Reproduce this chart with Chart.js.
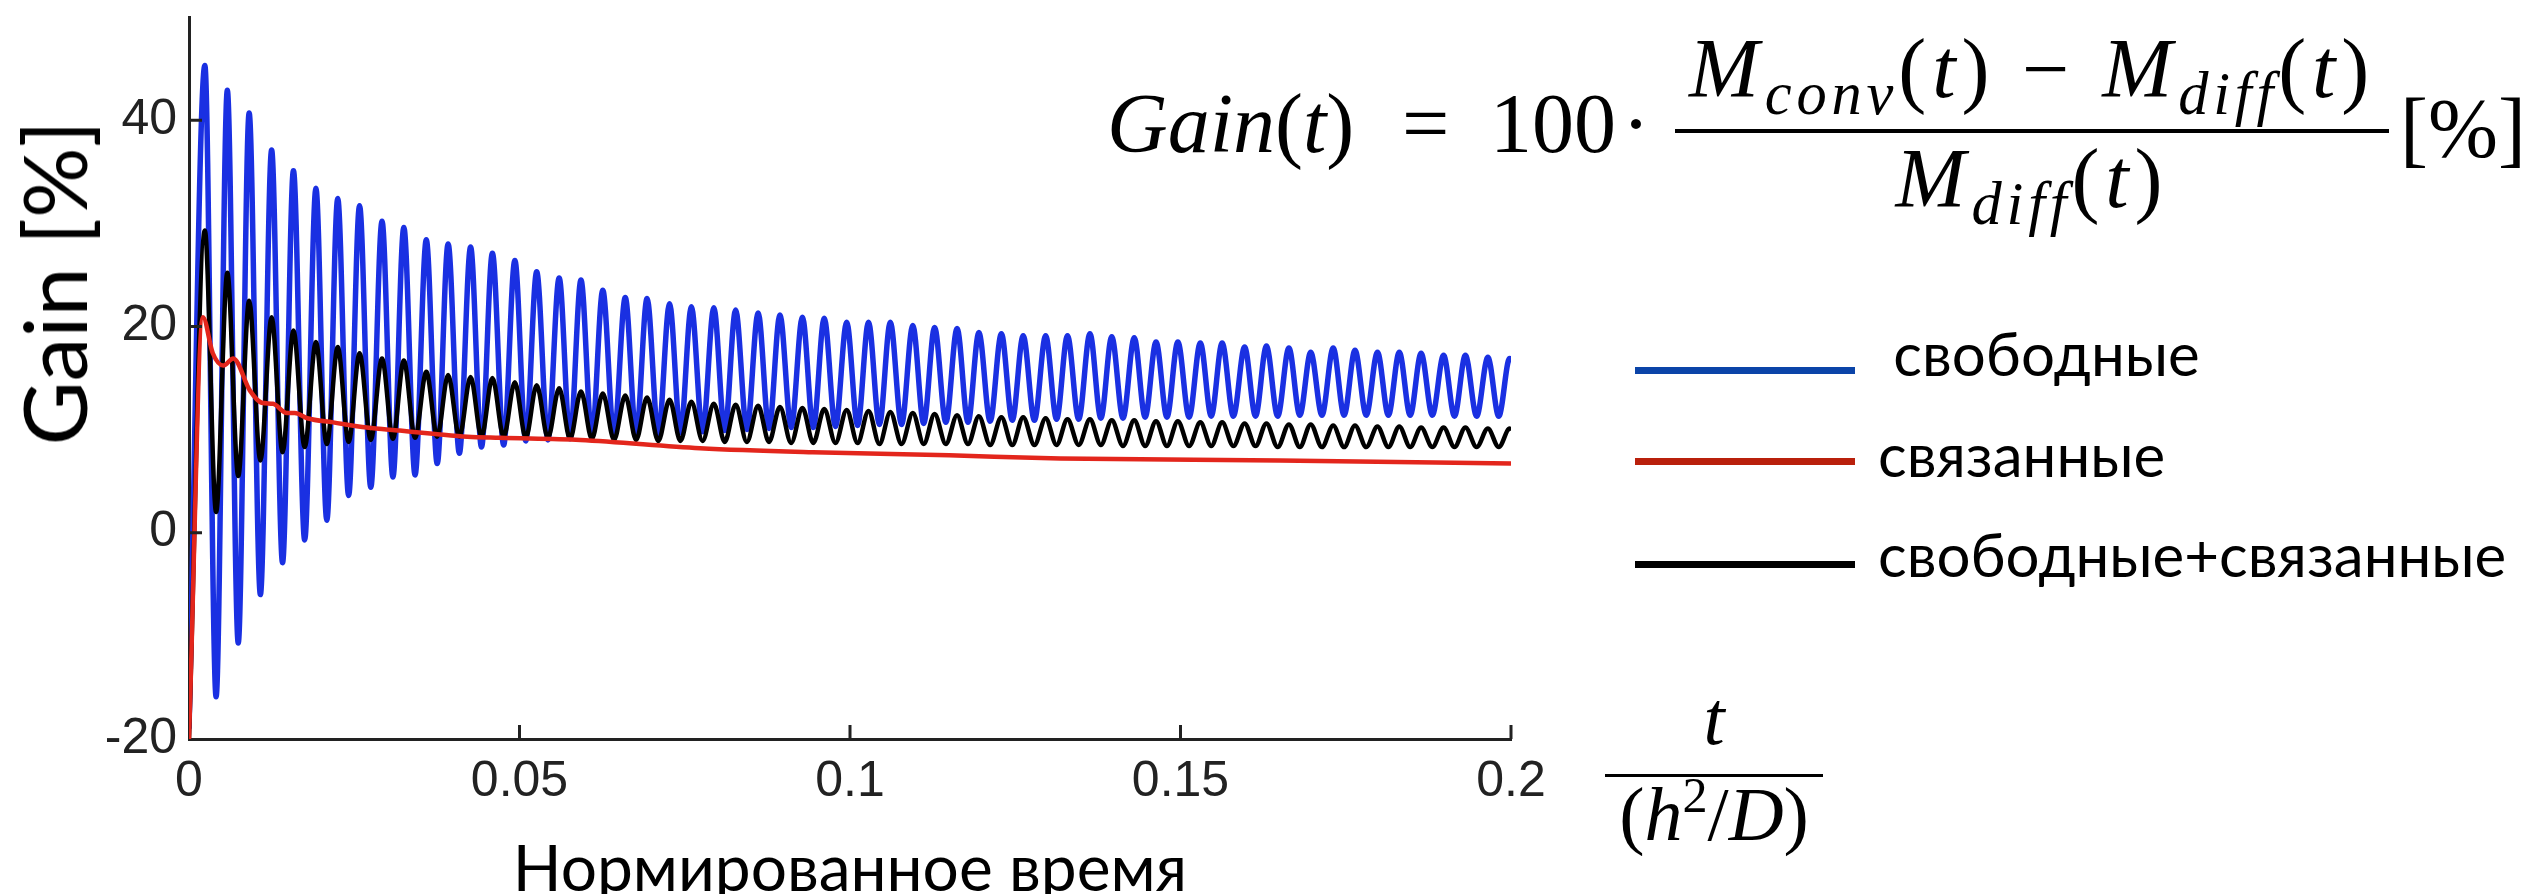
<!DOCTYPE html>
<html>
<head>
<meta charset="utf-8">
<script src="https://cdn.jsdelivr.net/npm/chart.js@4.4.1/dist/chart.umd.min.js"></script>
<style>
  body { margin: 0; background: #fff; overflow: hidden; }
  #wrap { position: relative; width: 2534px; height: 894px; }
  .abs { position: absolute; white-space: pre; line-height: 1; }
  .sans { font-family: Lato, "Open Sans", sans-serif; color: #000; }
  .math { font-family: "Liberation Serif", "DejaVu Serif", serif; color: #000; font-size: 84px; }
  .math i { font-style: italic; }
  .math sub { font-size: 0.72em; vertical-align: -0.28em; line-height: 0; }
  .math sub i { letter-spacing: 0.08em; }
  .math sup { font-size: 0.66em; vertical-align: 0.55em; line-height: 0; }
  .wide { letter-spacing: 0.07em; }
  .bar { position: absolute; background: #000; }
  .frac-part { position: absolute; text-align: center; white-space: nowrap; line-height: 1; }
  .key { position: absolute; height: 7px; }
</style>
</head>
<body>
<div id="wrap">
  <canvas id="gainChart" width="2534" height="894"></canvas>

  <div class="abs sans" id="yTitle" style="font-size:88px; left:53px; top:283px; transform: translate(-50%, -50%) rotate(-90deg);">Gain [%]</div>

  <div class="abs math" style="left:1107px; top:82px;"><i>Gain</i>(<i>t</i>)</div>
  <div class="abs math" style="left:1402px; top:82px;">=</div>
  <div class="abs math" style="left:1490px; top:82px;">100</div>
  <div class="abs math" style="left:1622px; top:82px;">·</div>
  <div class="frac-part math wide" style="left:1675px; width:714px; top:27px;"><i>M</i><sub><i>conv</i></sub>(<i>t</i>) − <i>M</i><sub><i>diff</i></sub>(<i>t</i>)</div>
  <div class="bar" style="left:1675px; width:714px; top:129px; height:4px;"></div>
  <div class="frac-part math wide" style="left:1675px; width:714px; top:137px;"><i>M</i><sub><i>diff</i></sub>(<i>t</i>)</div>
  <div class="abs math" style="left:2400px; top:87px;">[%]</div>

  <div class="frac-part math" style="left:1605px; width:218px; top:680px; font-size:76px;"><i>t</i></div>
  <div class="bar" style="left:1605px; width:218px; top:774px; height:3px;"></div>
  <div class="frac-part math" style="left:1605px; width:218px; top:776px; font-size:76px;">(<i>h</i><sup>2</sup>/<i>D</i>)</div>

  <div id="legend"></div>
</div>

<script>
// оси
const xTicks = [0, 0.05, 0.1, 0.15, 0.2];
const xTickLabels = ["0", "0.05", "0.1", "0.15", "0.2"];
const yTicks = [-20, 0, 20, 40];
const yTickLabels = ["-20", "0", "20", "40"];

const seriesNames = [" свободные", "связанные", "свободные+связанные"];
const lineColors = ["#1a30e2", "#e3261c", "#000000"];
const legendColors = ["#0b44a8", "#b9200c", "#000000"];

// моменты максимумов колебаний (нормированное время)
const peakTimes = [
  0.0024, 0.0058, 0.0091, 0.0125, 0.0158, 0.0192, 0.0225, 0.0258, 0.0292, 0.0325,
  0.0359, 0.0392, 0.0426, 0.0459, 0.0493, 0.0526, 0.0560, 0.0593, 0.0626, 0.0660,
  0.0693, 0.0727, 0.0760, 0.0794, 0.0827, 0.0861, 0.0894, 0.0928, 0.0961, 0.0995,
  0.1028, 0.1061, 0.1095, 0.1128, 0.1162, 0.1195, 0.1229, 0.1262, 0.1296, 0.1329,
  0.1363, 0.1396, 0.1430, 0.1463, 0.1496, 0.1530, 0.1563, 0.1597, 0.1630, 0.1664,
  0.1697, 0.1731, 0.1764, 0.1798, 0.1831, 0.1864, 0.1898, 0.1931, 0.1965, 0.1998
];

// свободные
const freeStart = -19;
const freeEnd = 16.5;
const freePeaks = [
  45.3, 42.9, 40.7, 37.1, 35.1, 33.4, 32.4, 31.7, 30.2, 29.6,
  28.4, 28.0, 27.7, 27.1, 26.4, 25.3, 24.7, 24.5, 23.5, 22.8,
  22.7, 22.2, 21.9, 21.8, 21.6, 21.3, 21.1, 20.9, 20.8, 20.4,
  20.4, 20.4, 20.1, 19.9, 19.8, 19.4, 19.3, 19.1, 19.1, 19.1,
  19.3, 19.0, 18.9, 18.5, 18.5, 18.4, 18.4, 18.0, 18.1, 17.9,
  17.5, 17.9, 17.7, 17.5, 17.5, 17.4, 17.2, 17.2, 17.0, 16.9
];
const freeTroughs = [
  -15.9, -10.7, -6.0, -2.9, -0.7, 1.2, 3.6, 4.4, 5.4, 5.6,
  6.7, 7.7, 8.3, 8.5, 8.9, 9.0, 9.1, 9.3, 9.4, 9.5,
  9.6, 9.7, 9.8, 9.9, 10.0, 10.1, 10.2, 10.2, 10.3, 10.4,
  10.5, 10.5, 10.6, 10.7, 10.7, 10.8, 10.9, 10.9, 11.0, 11.0,
  11.1, 11.1, 11.2, 11.2, 11.2, 11.3, 11.3, 11.3, 11.3, 11.4,
  11.4, 11.4, 11.4, 11.4, 11.4, 11.4, 11.3, 11.3, 11.3
];

// свободные+связанные
const bothStart = -20;
const bothEnd = 9.9;
const bothPeaks = [
  29.3, 25.2, 22.5, 20.9, 19.6, 18.5, 18.0, 17.4, 16.9, 16.7,
  15.6, 15.3, 15.1, 15.0, 14.6, 14.3, 14.0, 13.7, 13.5, 13.3,
  13.1, 12.9, 12.7, 12.5, 12.4, 12.3, 12.2, 12.1, 12.0, 11.9,
  11.8, 11.7, 11.6, 11.5, 11.4, 11.3, 11.2, 11.2, 11.1, 11.0,
  11.0, 10.9, 10.9, 10.8, 10.8, 10.7, 10.7, 10.6, 10.6, 10.5,
  10.5, 10.4, 10.4, 10.3, 10.3, 10.2, 10.2, 10.2, 10.1, 10.1
];
const bothTroughs = [
  2.0, 5.5, 7.0, 7.8, 8.3, 8.6, 8.8, 9.0, 9.1, 9.2,
  9.3, 9.3, 9.3, 9.3, 9.2, 9.2, 9.1, 9.1, 9.0, 9.0,
  8.9, 8.9, 8.9, 8.8, 8.8, 8.8, 8.7, 8.7, 8.7, 8.7,
  8.6, 8.6, 8.6, 8.6, 8.6, 8.5, 8.5, 8.5, 8.5, 8.5,
  8.5, 8.4, 8.4, 8.4, 8.4, 8.4, 8.4, 8.4, 8.3, 8.3,
  8.3, 8.3, 8.3, 8.3, 8.3, 8.3, 8.3, 8.3, 8.3
];

// связанные
const boundTimes = [
  0, 0.0021, 0.0036, 0.0052, 0.0067, 0.0092, 0.0110, 0.0127, 0.0148, 0.0160,
  0.0179, 0.0218, 0.0269, 0.0319, 0.0369, 0.0421, 0.0470, 0.0592, 0.0773, 0.0944,
  0.1150, 0.1318, 0.1650, 0.2
];
const boundGain = [
  -20, 20.9, 17.4, 16.2, 16.9, 13.8, 12.6, 12.5, 11.6, 11.6,
  11.1, 10.7, 10.2, 9.9, 9.6, 9.3, 9.2, 9.0, 8.2, 7.8,
  7.5, 7.2, 7.0, 6.7
];

function oscillation(start, peaks, troughs, end) {
  const pts = [{ x: 0, y: start }];
  peaks.forEach((p, i) => {
    pts.push({ x: peakTimes[i], y: p });
    if (i < troughs.length) {
      pts.push({ x: (peakTimes[i] + peakTimes[i + 1]) / 2, y: troughs[i] });
    }
  });
  pts.push({ x: 0.2, y: end });
  return pts;
}

const boundPoints = boundTimes.map((t, i) => ({ x: t, y: boundGain[i] }));

// тики внутрь, как в MATLAB
const innerTicks = {
  id: "innerTicks",
  afterDatasetsDraw(chart) {
    const { ctx, chartArea, scales } = chart;
    ctx.save();
    ctx.strokeStyle = "#222";
    ctx.lineWidth = 3;
    ctx.beginPath();
    xTicks.slice(1).forEach(v => {
      const px = scales.x.getPixelForValue(v);
      ctx.moveTo(px, chartArea.bottom);
      ctx.lineTo(px, chartArea.bottom - 14);
    });
    yTicks.slice(1).forEach(v => {
      const py = scales.y.getPixelForValue(v);
      ctx.moveTo(chartArea.left, py);
      ctx.lineTo(chartArea.left + 13, py);
    });
    ctx.stroke();
    ctx.restore();
  }
};

const tickFamily = "'Liberation Sans', Arial, sans-serif";

new Chart(document.getElementById("gainChart"), {
  type: "line",
  data: {
    datasets: [
      {
        label: seriesNames[0],
        data: oscillation(freeStart, freePeaks, freeTroughs, freeEnd),
        borderColor: lineColors[0],
        borderWidth: 5.5,
        order: 2
      },
      {
        label: seriesNames[1],
        data: boundPoints,
        borderColor: lineColors[1],
        borderWidth: 4.5,
        order: 0
      },
      {
        label: seriesNames[2],
        data: oscillation(bothStart, bothPeaks, bothTroughs, bothEnd),
        borderColor: lineColors[2],
        borderWidth: 4.5,
        order: 1
      }
    ]
  },
  options: {
    responsive: false,
    animation: false,
    parsing: false,
    elements: {
      point: { radius: 0 },
      line: { cubicInterpolationMode: "monotone", borderJoinStyle: "round" }
    },
    layout: { padding: { left: 99, top: 17, right: 1023, bottom: 0 } },
    plugins: {
      legend: { display: false },
      tooltip: { enabled: false }
    },
    scales: {
      x: {
        type: "linear",
        min: 0,
        max: 0.2,
        afterBuildTicks: s => { s.ticks = xTicks.map(v => ({ value: v })); },
        afterFit: s => { s.height = 155; },
        ticks: {
          padding: 13,
          color: "#222",
          font: { family: tickFamily, size: 50, lineHeight: 1.2 },
          maxRotation: 0,
          callback: (v, i) => xTickLabels[i]
        },
        grid: { display: false, drawTicks: false },
        border: { display: true, color: "#222", width: 3 },
        title: {
          display: true,
          text: "Нормированное время",
          color: "#000",
          font: { family: "Lato, 'Open Sans', sans-serif", size: 64, lineHeight: 1.0 },
          padding: { top: 0, bottom: -8 }
        }
      },
      y: {
        type: "linear",
        min: -20,
        max: 50,
        afterBuildTicks: s => { s.ticks = yTicks.map(v => ({ value: v })); },
        afterFit: s => { s.width = 90; },
        ticks: {
          padding: 12,
          color: "#222",
          font: { family: tickFamily, size: 50, lineHeight: 0.1 },
          callback: (v, i) => yTickLabels[i]
        },
        grid: { display: false, drawTicks: false },
        border: { display: true, color: "#222", width: 3 }
      }
    }
  },
  plugins: [innerTicks]
});

// легенда справа
const legendBox = document.getElementById("legend");
const legendLines = [370, 461, 564];
const legendText = [360, 461, 561];
seriesNames.forEach((name, i) => {
  const key = document.createElement("div");
  key.className = "key";
  key.style.left = "1635px";
  key.style.width = "220px";
  key.style.top = (legendLines[i] - 3) + "px";
  key.style.background = legendColors[i];
  legendBox.appendChild(key);

  const label = document.createElement("div");
  label.className = "abs sans";
  label.style.fontSize = "60px";
  label.style.left = "1878px";
  label.style.top = (legendText[i] - 37) + "px";
  label.textContent = name;
  legendBox.appendChild(label);
});
</script>
</body>
</html>
